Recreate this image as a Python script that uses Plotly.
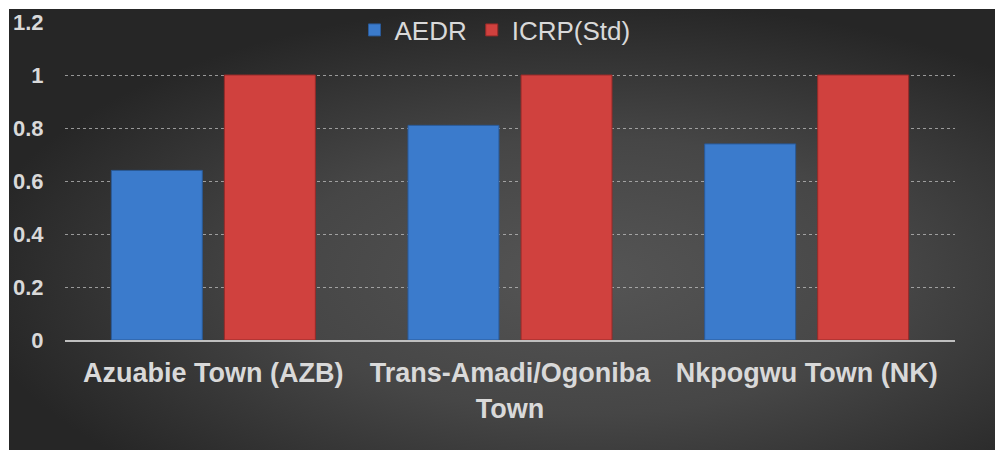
import base64
import plotly.graph_objects as go

categories = ["Azuabie Town (AZB)", "Trans-Amadi/Ogoniba<br>Town", "Nkpogwu Town (NK)"]
aedr = [0.64, 0.81, 0.74]
icrp = [1.0, 1.0, 1.0]
tick_vals = [0, 0.2, 0.4, 0.6, 0.8, 1.0, 1.2]
tick_text = ["0", "0.2", "0.4", "0.6", "0.8", "1", "1.2"]

# page body has an 8px margin; figure coordinates are page coordinates minus 8
W, H = 1000, 446
L, R, T, B = 57, W - 947, 14, H - 332
pw, ph = W - L - R, H - T - B

svg = (
    '<svg xmlns="http://www.w3.org/2000/svg" width="999" height="445" viewBox="0 0 999 445" preserveAspectRatio="none">'
    '<defs><radialGradient id="g" cx="0.58" cy="0.6" r="0.62" gradientUnits="objectBoundingBox">'
    '<stop offset="0" stop-color="#555555"/><stop offset="0.5" stop-color="#464646"/>'
    '<stop offset="1" stop-color="#262626"/></radialGradient></defs>'
    '<rect x="0" y="0" width="999" height="445" fill="url(#g)"/></svg>'
)
src = "data:image/svg+xml;base64," + base64.b64encode(svg.encode()).decode()

bx0, by0, bw, bh = 1, 1, 999, 445

fig = go.Figure()
fig.add_trace(go.Bar(
    name="AEDR", x=categories, y=aedr,
    marker=dict(color="#3b7bcc", line=dict(color="#2a5a98", width=1)),
))
fig.add_trace(go.Bar(
    name="ICRP(Std)", x=categories, y=icrp,
    marker=dict(color="#d0413e", line=dict(color="#962a28", width=1)),
))

fig.update_layout(
    width=W, height=H,
    margin=dict(l=L, r=R, t=T, b=B, autoexpand=False),
    paper_bgcolor="white",
    plot_bgcolor="rgba(0,0,0,0)",
    barmode="group",
    bargap=0.238,
    bargroupgap=0.195,
    font=dict(family="Arial, Liberation Sans, sans-serif", color="#d9d9d9"),
    images=[dict(
        source=src, xref="paper", yref="paper",
        x=(bx0 - L) / pw, y=(H - B - by0) / ph,
        sizex=bw / pw, sizey=bh / ph,
        xanchor="left", yanchor="top", sizing="stretch", layer="below",
    )],
    legend=dict(
        orientation="h", x=(487 - L) / pw, xanchor="center", y=(H - B - 22) / ph, yanchor="middle",
        bgcolor="rgba(0,0,0,0)", font=dict(size=26, color="#d9d9d9"),
        itemwidth=30, tracegroupgap=0,
    ),
    showlegend=True,
)
fig.update_xaxes(
    showgrid=False, showline=True, linecolor="#bfbfbf", linewidth=2,
    ticks="outside", ticklen=8, tickcolor="rgba(0,0,0,0)",
    tickfont=dict(size=27, color="#d9d9d9"),
    tickangle=0, automargin=False,
    tickvals=categories, ticktext=[f"<b>{c}</b>" for c in categories],
)
fig.update_yaxes(
    range=[0, 1.2], tickvals=tick_vals, ticktext=[f"<b>{t}</b>" for t in tick_text],
    showgrid=True, gridcolor="rgba(200,200,200,0.7)", griddash="dot", gridwidth=1,
    zeroline=False, showline=False, automargin=False,
    ticks="outside", ticklen=16, tickcolor="rgba(0,0,0,0)",
    tickfont=dict(size=22, color="#d9d9d9"),
)
fig.write_html("out.html")
